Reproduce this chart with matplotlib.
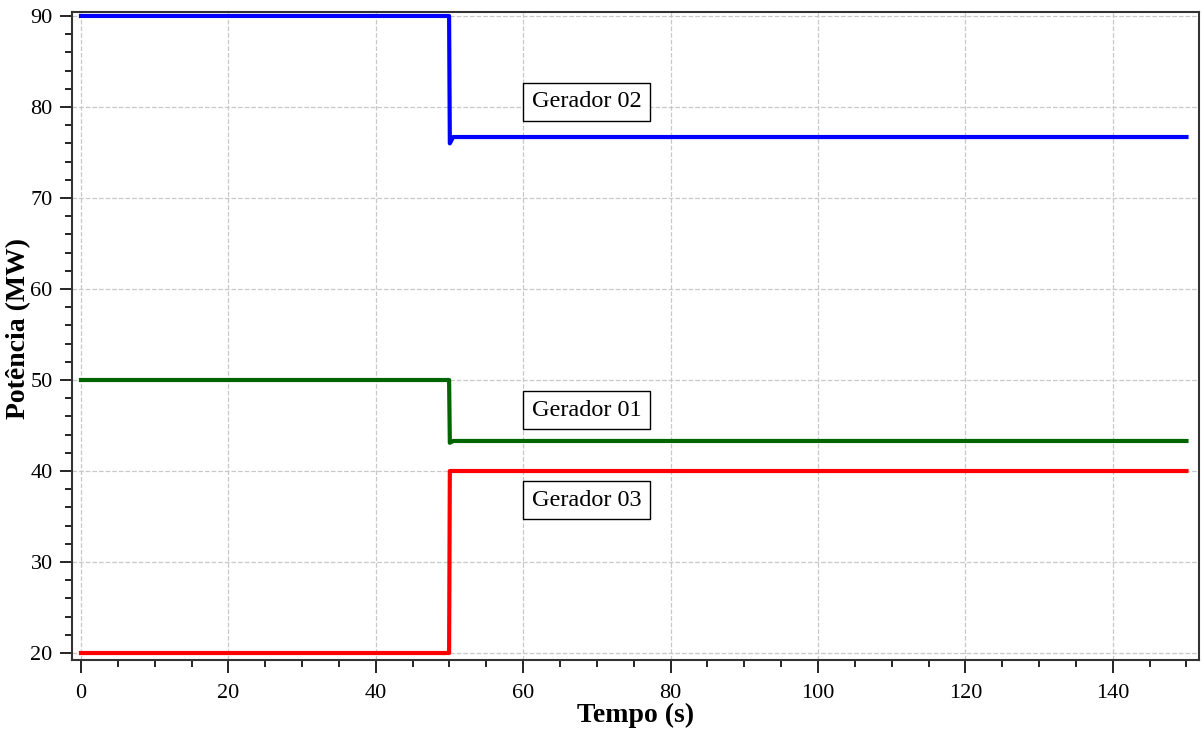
import numpy as np
import matplotlib.pyplot as plt
from matplotlib.ticker import MultipleLocator

# dados dos geradores (degrau em t = 50 s)
tempo = [0, 49.95, 50.05, 50.5, 150]
gerador_01 = [50, 50, 43.1, 43.3, 43.3]
gerador_02 = [90, 90, 76.0, 76.7, 76.7]
gerador_03 = [20, 20, 40, 40, 40]

rotulos = ["Gerador 02", "Gerador 01", "Gerador 03"]
pos_rotulos = [(68.6, 80.6), (68.6, 46.7), (68.6, 36.8)]

plt.rcParams['font.family'] = ['Liberation Serif', 'DejaVu Serif']

fig = plt.figure(figsize=(12.02, 7.35), dpi=100)
ax = fig.add_axes([0.06, 0.102, 0.9375, 0.8817])

ax.plot(tempo, gerador_02, color='#0000ff', lw=3)
ax.plot(tempo, gerador_01, color='#006400', lw=3)
ax.plot(tempo, gerador_03, color='#ff0000', lw=3)

for txt, (x, y) in zip(rotulos, pos_rotulos):
    ax.text(x, y, txt, fontsize=17.5, ha='center', va='center',
            bbox=dict(boxstyle='square,pad=0.35', fc='white', ec='black', lw=1))

ax.set_xlim(-1.2, 151.7)
ax.set_ylim(19.23, 90.44)
ax.xaxis.set_major_locator(MultipleLocator(20))
ax.xaxis.set_minor_locator(MultipleLocator(5))
ax.yaxis.set_major_locator(MultipleLocator(10))
ax.yaxis.set_minor_locator(MultipleLocator(2))
ax.tick_params(which='major', length=9, width=1.2, labelsize=16, direction='out')
ax.tick_params(axis='x', which='major', pad=8)
ax.tick_params(axis='y', which='major', pad=5)
ax.tick_params(which='minor', length=5, width=1.2, direction='out')

ax.grid(True, which='major', ls='--', color='#c8c8c8', lw=0.9)
for s in ax.spines.values():
    s.set_color('#333333')
    s.set_linewidth(1.5)

ax.set_xlabel('Tempo (s)', fontsize=20, fontweight='bold', labelpad=0)
ax.set_ylabel('Potência (MW)', fontsize=20, fontweight='bold')
ax.yaxis.set_label_coords(-0.036, 0.512)

plt.savefig('out.png')
